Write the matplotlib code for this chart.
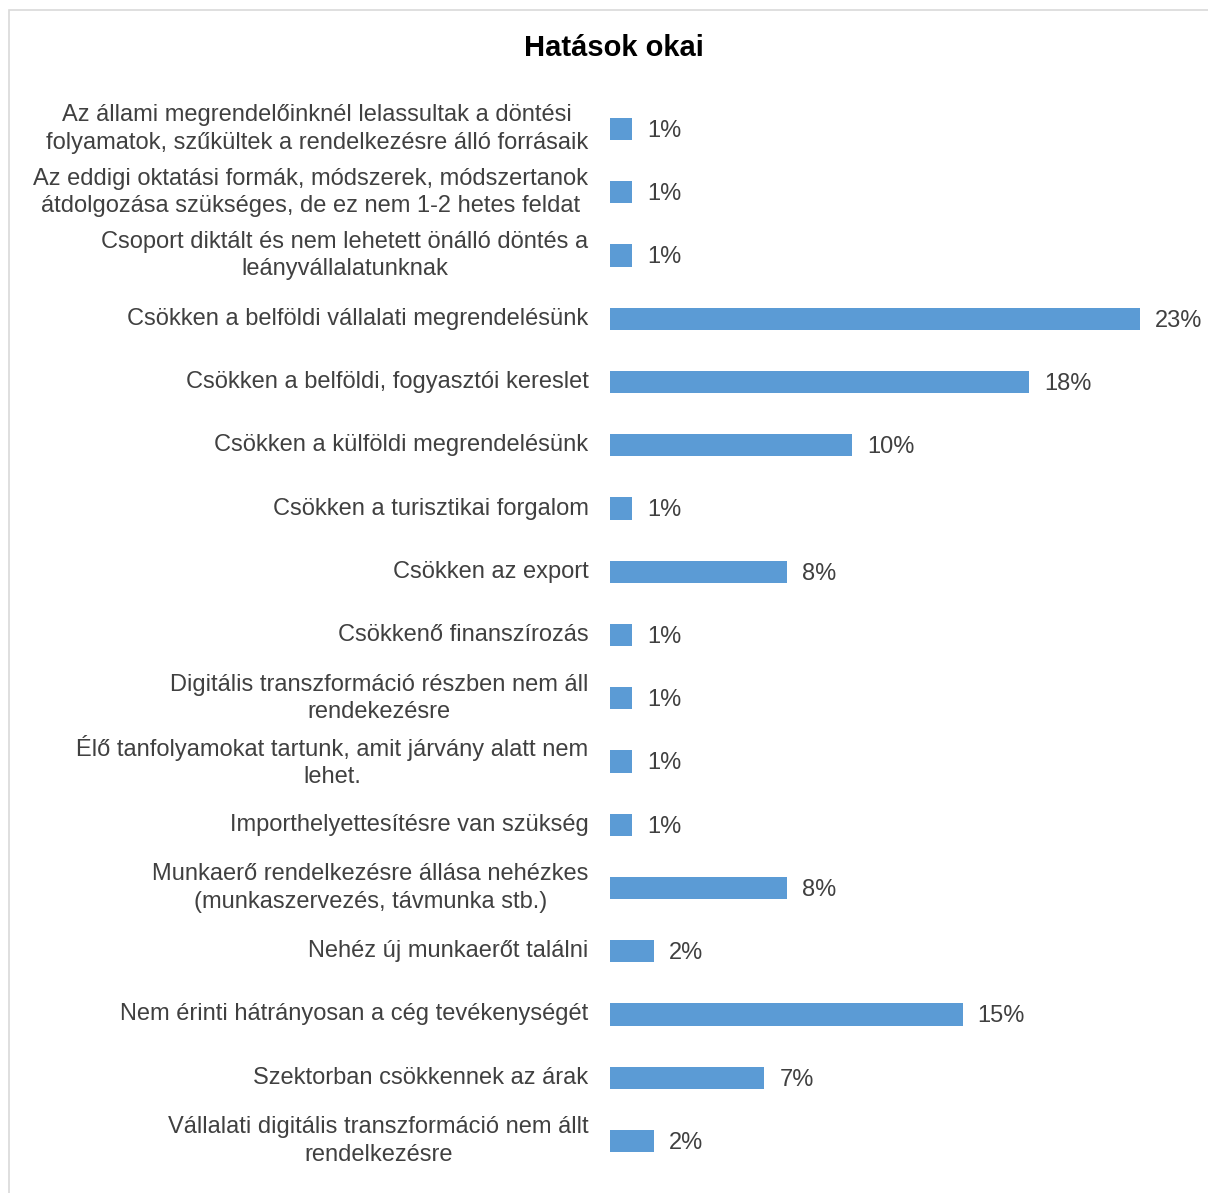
import matplotlib.pyplot as plt
from matplotlib.patches import Rectangle

plt.rcParams['font.family'] = ['Liberation Sans', 'DejaVu Sans']

categories = [
    "Az állami megrendelőinknél lelassultak a döntési\nfolyamatok, szűkültek a rendelkezésre álló forrásaik",
    "Az eddigi oktatási formák, módszerek, módszertanok\nátdolgozása szükséges, de ez nem 1-2 hetes feldat",
    "Csoport diktált és nem lehetett önálló döntés a\nleányvállalatunknak",
    "Csökken a belföldi vállalati megrendelésünk",
    "Csökken a belföldi, fogyasztói kereslet",
    "Csökken a külföldi megrendelésünk",
    "Csökken a turisztikai forgalom",
    "Csökken az export",
    "Csökkenő finanszírozás",
    "Digitális transzformáció részben nem áll\nrendekezésre",
    "Élő tanfolyamokat tartunk, amit járvány alatt nem\nlehet.",
    "Importhelyettesítésre van szükség",
    "Munkaerő rendelkezésre állása nehézkes\n(munkaszervezés, távmunka stb.)",
    "Nehéz új munkaerőt találni",
    "Nem érinti hátrányosan a cég tevékenységét",
    "Szektorban csökkennek az árak",
    "Vállalati digitális transzformáció nem állt\nrendelkezésre",
]
values = [0.95, 0.95, 0.95, 23.0, 18.2, 10.5, 0.95, 7.7, 0.95, 0.95,
          0.95, 0.95, 7.7, 1.9, 15.3, 6.7, 1.9]
labels = ["1%", "1%", "1%", "23%", "18%", "10%", "1%", "8%", "1%", "1%",
          "1%", "1%", "8%", "2%", "15%", "7%", "2%"]

W, H = 1208, 1193
fig = plt.figure(figsize=(W / 100, H / 100), dpi=100)
text_color = '#404040'

# light frame on left/top edge
fig.add_artist(Rectangle((9 / W, -0.1), 1.2, (H - 10) / H + 0.1, transform=fig.transFigure,
                         fill=False, edgecolor='#d9d9d9', linewidth=1.2))

top_px, bot_px = 97.4, 1172.6
ax = fig.add_axes([610 / W, 1 - bot_px / H, 1 - 610 / W, (bot_px - top_px) / H])
y = list(range(len(categories)))
ax.barh(y, values, height=0.35, color='#5b9bd5')
ax.set_ylim(len(categories) - 0.5, -0.5)
ax.set_xlim(0, 598 / 23.04)
for yi, v, lab in zip(y, values, labels):
    ax.text(v + 15 / 23.04, yi + 0.03, lab, va='center', ha='left', fontsize=17, color=text_color)

ax.set_yticks(y)
ax.set_yticklabels(categories, fontsize=17, color=text_color, ha='right', va='center',
                   multialignment='center', linespacing=1.3)
ax.tick_params(axis='y', length=0, pad=15.5)
ax.set_xticks([])
for s in ax.spines.values():
    s.set_visible(False)
ax.patch.set_alpha(0)

fig.text(614 / W, 1 - 48 / H, "Hatások okai", ha='center', va='center',
         fontsize=21, fontweight='bold', color='black')

fig.savefig('out.png', dpi=100)
